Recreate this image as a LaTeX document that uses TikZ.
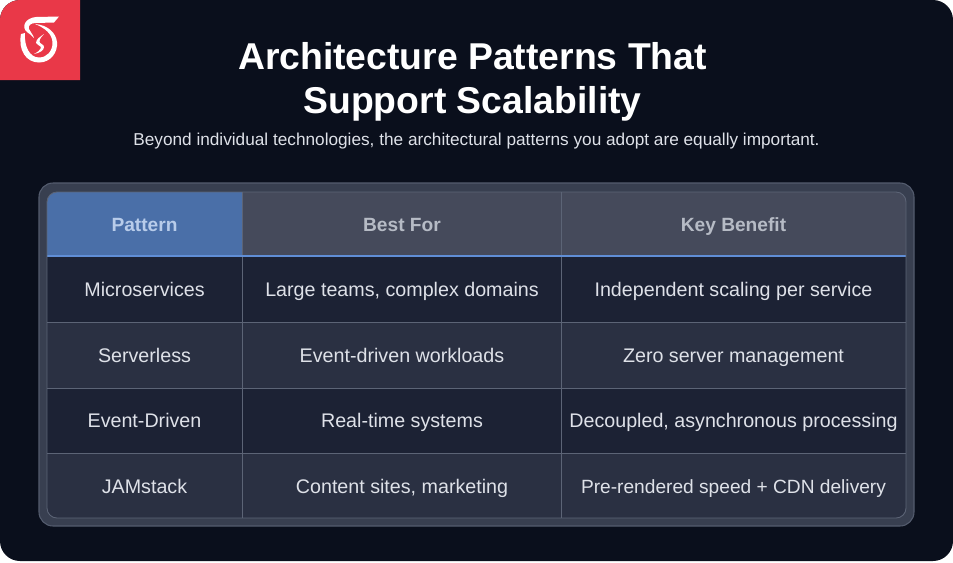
\documentclass[tikz,border=0pt]{standalone}
\usepackage{fontspec}
\setmainfont{Liberation Sans}
\usepackage{xcolor}
\usetikzlibrary{calc,positioning}
\definecolor{pagedark}{RGB}{10,15,28}
\definecolor{logored}{RGB}{233,56,72}
\definecolor{framefill}{RGB}{56,63,80}
\definecolor{frameline}{RGB}{84,92,110}
\definecolor{headgray}{RGB}{69,74,91}
\definecolor{headblue}{RGB}{74,111,168}
\definecolor{headrule}{RGB}{96,142,214}
\definecolor{rowdark}{RGB}{28,34,52}
\definecolor{rowlight}{RGB}{42,48,66}
\definecolor{gridline}{RGB}{92,100,118}
\definecolor{celltext}{RGB}{222,225,232}
\definecolor{headtext}{RGB}{182,187,197}
\definecolor{pattext}{RGB}{184,204,234}
\tikzset{
  titletext/.style={font=\fontsize{21.25}{25}\selectfont\bfseries, text=white, align=center},
  subtext/.style={font=\fontsize{9.8}{12}\selectfont, text=celltext, text height=7pt, text depth=0pt},
  headcell/.style={font=\fontsize{10.9}{13}\selectfont\bfseries, text=headtext, text height=8.2pt, text depth=0pt},
  bodycell/.style={font=\fontsize{11.2}{13}\selectfont, text=celltext, text height=8.2pt, text depth=0pt},
}
\begin{document}
\begin{tikzpicture}[x=0.02cm, y=-0.02cm]
  \useasboundingbox (0,0) rectangle (953,562);
  % Page
  \fill[white] (0,0) rectangle (953,562);
  \fill[pagedark, rounded corners=0.4cm] (0,0) rectangle (953,561);
  % Logo
  \fill[logored] (0,80) -- (0,20) arc[start angle=180, end angle=90, radius=0.4cm] -- (80,0) -- (80,80) -- cycle;
  \fill[white] (59,16.5) -- (36,17) .. controls (25,18) and (21,27) .. (27,32)
    .. controls (29,34) and (32,35) .. (34,38)
    .. controls (33,34) and (30,32) .. (29,29)
    .. controls (28,25) and (31,23) .. (36,23) -- (54,22.5) -- cycle;
  \fill[white] (21,34) .. controls (18,50) and (26,62.5) .. (39,62.5)
    .. controls (51,62.5) and (58,52) .. (57,42)
    .. controls (56,33) and (48,25) .. (35,24)
    .. controls (45,28) and (52.5,34) .. (52.5,43)
    .. controls (52.5,51) and (47,57.5) .. (39,57.5)
    .. controls (30,57.5) and (24,47) .. (25,33) -- cycle;
  \fill[white] (44,34) .. controls (40,37) and (36,39) .. (36,43)
    .. controls (37,46) and (41,45) .. (41,48)
    .. controls (40,50) and (38,52) .. (34,54)
    .. controls (40,53) and (44,50) .. (44,47)
    .. controls (44,44) and (39.5,44) .. (39.5,41.5)
    .. controls (39.5,39) and (42,36) .. (44,34) -- cycle;
  % Title
  \node[titletext] (title) at (472.5,81.5) {Architecture Patterns That\\Support Scalability};
  \node[subtext] (subtitle) at (476.5,139) {Beyond individual technologies, the architectural patterns you adopt are equally important.};
  % Table frame
  \fill[framefill, draw=frameline, line width=0.6pt, rounded corners=0.28cm] (39,183) rectangle (914,526);
  \begin{scope}
    \clip[rounded corners=0.2cm] (47,192) rectangle (906,518);
    \fill[headblue] (47,192) rectangle (242,256);
    \fill[headgray] (242,192) rectangle (906,256);
    \fill[rowdark] (47,256) rectangle (906,322);
    \fill[rowlight] (47,322) rectangle (906,388);
    \fill[rowdark] (47,388) rectangle (906,453);
    \fill[rowlight] (47,453) rectangle (906,518);
    \foreach \ypos in {322,388,453} {
      \draw[gridline, line width=0.45pt] (47,\ypos) -- (906,\ypos);
    }
    \foreach \xpos in {242,561} {
      \draw[gridline, line width=0.45pt] (\xpos,192) -- (\xpos,518);
    }
    \draw[headrule, line width=1pt] (47,256) -- (906,256);
  \end{scope}
  \draw[gridline, line width=0.5pt, rounded corners=0.2cm] (47,192) rectangle (906,518);
  % Header
  \node[headcell, text=pattext] (hpattern) at (144.5,224) {Pattern};
  \node[headcell] (hbest) at (402,224) {Best For};
  \node[headcell] (hbenefit) at (733.5,224) {Key Benefit};
  % Rows
  \node[bodycell] (micro) at (144.5,289.5) {Microservices};
  \node[bodycell] (microbest) at (402,289.5) {Large teams, complex domains};
  \node[bodycell] (microkey) at (733.5,289.5) {Independent scaling per service};
  \node[bodycell] (server) at (144.5,355) {Serverless};
  \node[bodycell] (serverbest) at (402,355) {Event-driven workloads};
  \node[bodycell] (serverkey) at (733.5,355) {Zero server management};
  \node[bodycell] (event) at (144.5,420.5) {Event-Driven};
  \node[bodycell] (eventbest) at (402,420.5) {Real-time systems};
  \node[bodycell] (eventkey) at (733.5,420.5) {Decoupled, asynchronous processing};
  \node[bodycell] (jam) at (144.5,486) {JAMstack};
  \node[bodycell] (jambest) at (402,486) {Content sites, marketing};
  \node[bodycell, font=\fontsize{10.9}{13}\selectfont] (jamkey) at (733.5,486) {Pre-rendered speed + CDN delivery};
\end{tikzpicture}
\end{document}
